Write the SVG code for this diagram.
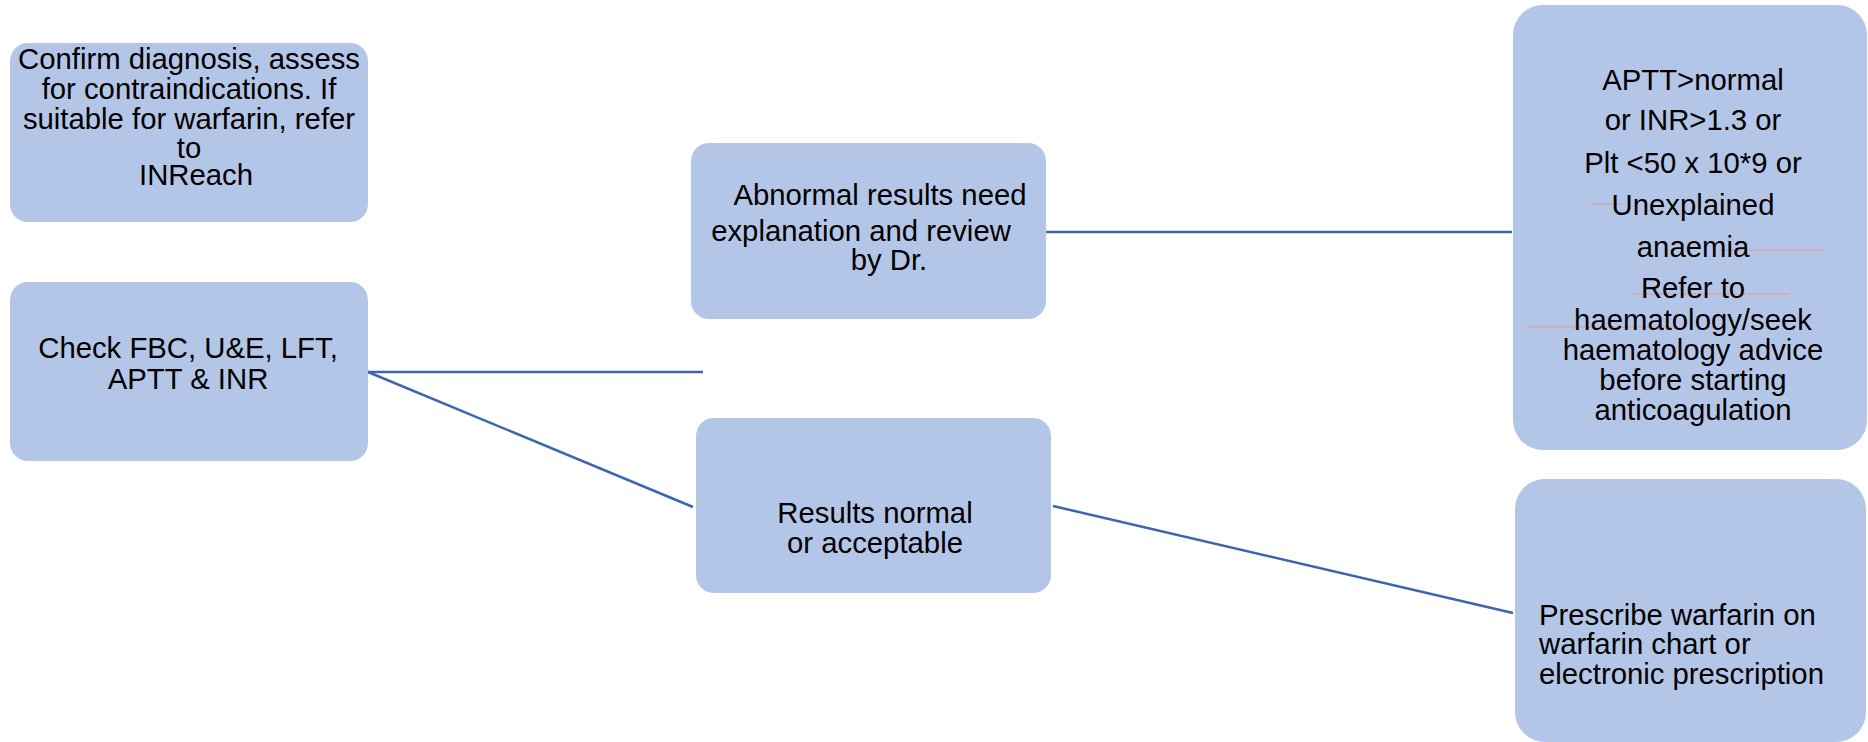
<svg xmlns="http://www.w3.org/2000/svg" width="1868" height="742" viewBox="0 0 1868 742">
<style>
.box{fill:#b4c6e7;}
.t{font-family:"Liberation Sans",Arial,sans-serif;font-size:29.3px;fill:#000;}
.c{text-anchor:middle;}
.conn{stroke:#3c64b1;stroke-width:2.5;fill:none;}
.pink{stroke:#d9a4b6;stroke-width:1.5;}
</style>
<rect width="1868" height="742" fill="#ffffff"/>
<g id="connectors">
<line class="conn" x1="368" y1="372" x2="703" y2="372"/>
<line class="conn" x1="368" y1="372" x2="693" y2="507"/>
<line class="conn" x1="1046" y1="232" x2="1512" y2="232"/>
<line class="conn" x1="1053" y1="506" x2="1513" y2="613"/>
</g>
<g id="n_confirm">
<rect class="box" x="10" y="43" width="358" height="179" rx="18"/>
<text class="t c" x="189" y="69">Confirm diagnosis, assess</text>
<text class="t c" x="189" y="99">for contraindications. If</text>
<text class="t c" x="189" y="129">suitable for warfarin, refer</text>
<text class="t c" x="189" y="158">to</text>
<text class="t c" x="196" y="185">INReach</text>
</g>
<g id="n_check">
<rect class="box" x="10" y="282" width="358" height="179" rx="18"/>
<text class="t c" x="188" y="358">Check FBC, U&amp;E, LFT,</text>
<text class="t c" x="188" y="389">APTT &amp; INR</text>
</g>
<g id="n_abnormal">
<rect class="box" x="691" y="143" width="355" height="176" rx="18"/>
<text class="t c" x="880" y="205">Abnormal results need</text>
<text class="t c" x="861" y="241">explanation and review</text>
<text class="t c" x="889" y="270">by Dr.</text>
</g>
<g id="n_normal">
<rect class="box" x="696" y="418" width="355" height="175" rx="18"/>
<text class="t c" x="875" y="523">Results normal</text>
<text class="t c" x="875" y="553">or acceptable</text>
</g>
<g id="n_refer">
<rect class="box" x="1513" y="5" width="354" height="445" rx="30"/>
<line class="pink" x1="1592" y1="204" x2="1623" y2="204"/>
<line class="pink" x1="1720" y1="250" x2="1823" y2="250"/>
<line class="pink" x1="1632" y1="294" x2="1790" y2="294"/>
<line class="pink" x1="1528" y1="327" x2="1680" y2="327"/>
<text class="t c" x="1693" y="90">APTT&gt;normal</text>
<text class="t c" x="1693" y="130">or INR&gt;1.3 or</text>
<text class="t c" x="1693" y="173">Plt &lt;50 x 10*9 or</text>
<text class="t c" x="1693" y="215">Unexplained</text>
<text class="t c" x="1693" y="257">anaemia</text>
<text class="t c" x="1693" y="298">Refer to</text>
<text class="t c" x="1693" y="330">haematology/seek</text>
<text class="t c" x="1693" y="360">haematology advice</text>
<text class="t c" x="1693" y="390">before starting</text>
<text class="t c" x="1693" y="420">anticoagulation</text>
</g>
<g id="n_prescribe">
<rect class="box" x="1515" y="479" width="351" height="263" rx="30"/>
<text class="t" x="1539" y="625">Prescribe warfarin on</text>
<text class="t" x="1539" y="654">warfarin chart or</text>
<text class="t" x="1539" y="684">electronic prescription</text>
</g>
</svg>
